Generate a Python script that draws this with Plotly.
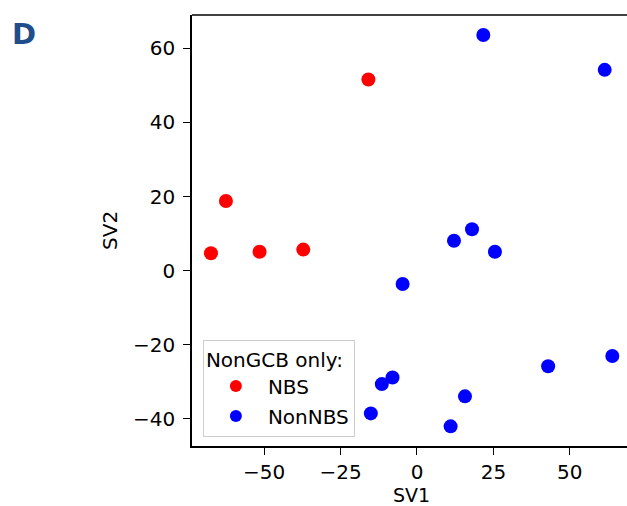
import plotly.graph_objects as go

# Data
nbs_sv1 = [-67.4, -62.5, -51.5, -37.2, -15.9]
nbs_sv2 = [4.7, 18.8, 5.1, 5.7, 51.6]

nonnbs_sv1 = [21.7, 61.4, 12.1, 18.0, 25.5, -4.7, 63.9, 42.9, -8.0, -11.5, 15.7, -15.1, 11.0]
nonnbs_sv2 = [63.6, 54.2, 8.1, 11.2, 5.1, -3.6, -23.0, -25.8, -28.8, -30.6, -33.9, -38.5, -42.0]

x_ticks = [-50, -25, 0, 25, 50]
y_ticks = [-40, -20, 0, 20, 40, 60]

FONT = "DejaVu Sans"
FS = 20
W, H = 627, 506
ml, mr, mt, mb = 192, 0, 15, 60
pw, ph = W - ml - mr, H - mt - mb


def px2paper(px, py):
    return (px - ml) / pw, 1 - (py - mt) / ph


fig = go.Figure()
fig.add_trace(go.Scatter(x=nbs_sv1, y=nbs_sv2, mode="markers", name="NBS", legendgroup="a",
                         marker=dict(color="#ff0000", size=14, line=dict(width=0))))
fig.add_trace(go.Scatter(x=nonnbs_sv1, y=nonnbs_sv2, mode="markers", name="NonNBS", legendgroup="b",
                         marker=dict(color="#0000ff", size=14, line=dict(width=0))))

axis_common = dict(showgrid=False, zeroline=False, showline=True, linecolor="black",
                   linewidth=1.5, ticks="outside", ticklen=7, tickwidth=1.3,
                   tickcolor="black", tickfont=dict(family=FONT, size=FS, color="black"),
                   mirror=False)

annots = []
for text, px, py, size, color, angle in [
    ("<b>D</b>", 24, 34, 29, "#1f4e8a", 0),
    ("SV2", 110, 231, FS, "black", -90),
    ("SV1", 411, 494.6, 19, "black", 0),
]:
    ax, ay = px2paper(px, py)
    annots.append(dict(text=text, x=ax, y=ay, xref="paper", yref="paper",
                       showarrow=False, textangle=angle,
                       font=dict(family=FONT, size=size, color=color),
                       xanchor="center", yanchor="middle"))

fig.update_layout(
    width=W, height=H,
    margin=dict(l=ml, r=mr, t=mt, b=mb),
    plot_bgcolor="white", paper_bgcolor="white",
    font=dict(family=FONT, size=FS, color="black"),
    showlegend=True,
    legend=dict(
        title=dict(text="NonGCB only:", font=dict(family=FONT, size=FS)),
        x=0.025, y=0.022, xanchor="left", yanchor="bottom",
        bgcolor="rgba(255,255,255,0.8)", bordercolor="#cccccc", borderwidth=1,
        font=dict(family=FONT, size=FS), itemsizing="constant",
        itemwidth=54, tracegroupgap=1,
    ),
    xaxis=dict(range=[-73.6, 68.7], tickvals=x_ticks, **axis_common),
    yaxis=dict(range=[-47.3, 69.0], tickvals=y_ticks, ticklabelstandoff=4, **axis_common),
    annotations=annots,
)

# top border line of the axes box
fig.add_shape(type="line", xref="paper", yref="paper", x0=0, x1=1, y0=1, y1=1,
              line=dict(color="black", width=1.5))

fig.write_html("out.html", config={"displayModeBar": False},
               post_script="document.body.style.margin='0';")
